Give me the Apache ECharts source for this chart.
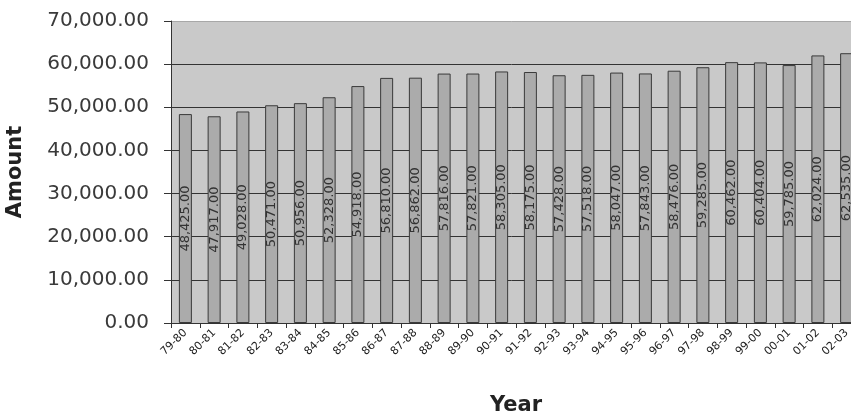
<!DOCTYPE html>
<html>
<head>
<meta charset="utf-8">
<script src="https://cdn.jsdelivr.net/npm/echarts@6/dist/echarts.min.js"></script>
<style>
  html, body { margin: 0; padding: 0; background: #ffffff; }
  #chart { width: 851px; height: 414px; }
</style>
</head>
<body>
<div id="chart"></div>
<script>
// Financial years on the category axis
const years = [
  '79-80', '80-81', '81-82', '82-83', '83-84', '84-85', '85-86', '86-87',
  '87-88', '88-89', '89-90', '90-91', '91-92', '92-93', '93-94', '94-95',
  '95-96', '96-97', '97-98', '98-99', '99-00', '00-01', '01-02', '02-03'
];

// Amount recorded for each year
const amounts = [
  48425, 47917, 49028, 50471, 50956, 52328, 54918, 56810,
  56862, 57816, 57821, 58305, 58175, 57428, 57518, 58047,
  57843, 58476, 59285, 60462, 60404, 59785, 62024, 62535
];

// Value axis range and step
const yMin = 0;
const yMax = 70000;
const yStep = 10000;

const fmt = v => v.toLocaleString('en-US', { minimumFractionDigits: 2, maximumFractionDigits: 2 });

const chart = echarts.init(document.getElementById('chart'), null, { renderer: 'canvas' });

chart.setOption({
  animation: false,
  backgroundColor: '#ffffff',
  grid: {
    left: 171,
    top: 21,
    width: 690,
    height: 302,
    outerBoundsMode: 'none',
    containLabel: false,
    show: true,
    backgroundColor: '#c9c9c9',
    borderWidth: 0
  },
  xAxis: {
    type: 'category',
    data: years,
    name: 'Year',
    nameLocation: 'middle',
    nameGap: 72,
    nameTextStyle: {
      fontFamily: 'DejaVu Sans',
      fontWeight: 'bold',
      fontSize: 21,
      color: '#222'
    },
    axisLine: { lineStyle: { color: '#333', width: 1 } },
    axisTick: { show: true, length: 5, lineStyle: { color: '#333' } },
    axisLabel: {
      rotate: 45,
      margin: 8,
      interval: 0,
      fontFamily: 'DejaVu Sans',
      fontSize: 11,
      color: '#222'
    }
  },
  yAxis: {
    type: 'value',
    min: yMin,
    max: yMax,
    interval: yStep,
    name: 'Amount',
    nameLocation: 'middle',
    nameGap: 145,
    nameTextStyle: {
      fontFamily: 'DejaVu Sans',
      fontWeight: 'bold',
      fontSize: 21,
      color: '#222'
    },
    axisLine: { show: true, lineStyle: { color: '#333', width: 1 } },
    axisTick: { show: true, length: 7, inside: false, lineStyle: { color: '#333' } },
    axisLabel: {
      margin: 22,
      formatter: v => fmt(v),
      fontFamily: 'DejaVu Sans',
      fontSize: 20,
      color: '#3a3a3a'
    },
    splitLine: {
      show: true,
      lineStyle: {
        color: ['#333', '#333', '#333', '#333', '#333', '#333', '#333', '#a8a8a8'],
        width: 1
      }
    }
  },
  series: [{
    type: 'bar',
    data: amounts,
    barWidth: 13,
    itemStyle: {
      color: '#ababab',
      borderColor: '#3a3a3a',
      borderWidth: 1
    },
    label: {
      show: true,
      position: 'inside',
      rotate: 90,
      formatter: p => fmt(p.value),
      fontFamily: 'DejaVu Sans',
      fontSize: 13,
      color: '#333'
    }
  }]
});
</script>
</body>
</html>
